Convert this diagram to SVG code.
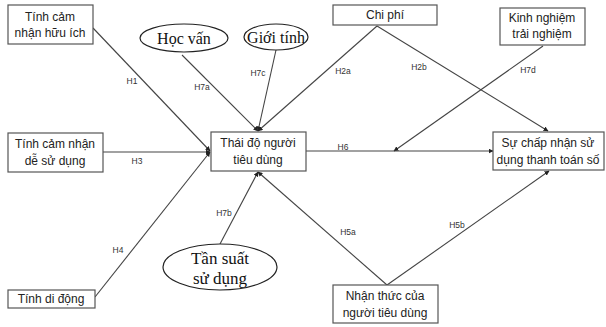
<svg xmlns="http://www.w3.org/2000/svg" width="606" height="327" viewBox="0 0 606 327">
<defs>
<marker id="arr" viewBox="0 0 10 10" refX="9" refY="5" markerWidth="5" markerHeight="5" orient="auto" markerUnits="userSpaceOnUse"><path d="M0,0 L10,5 L0,10 z" fill="#222"/></marker>
</defs>
<style>
.box{fill:#fff;stroke:#555;stroke-width:1.2}
.ell{fill:#fff;stroke:#222;stroke-width:1.2}
.t{font-family:"Liberation Sans",Arial,sans-serif;font-size:12px;fill:#222;text-anchor:middle}
.s{font-family:"Liberation Serif","Times New Roman",serif;fill:#111;text-anchor:middle}
.c{stroke:#444;stroke-width:1.1;fill:none;marker-end:url(#arr)}
.l{font-family:"Liberation Sans",Arial,sans-serif;font-size:8.5px;fill:#333;text-anchor:middle}
</style>
<rect width="606" height="327" fill="#fff"/>
<g id="connectors">
<line class="c" x1="93" y1="28" x2="210" y2="151"/>
<line class="c" x1="103" y1="152" x2="210" y2="152"/>
<line class="c" x1="95" y1="297" x2="210" y2="152"/>
<line class="c" x1="182" y1="55" x2="258" y2="131"/>
<line class="c" x1="276" y1="50" x2="258" y2="131"/>
<line class="c" x1="377" y1="26" x2="258" y2="131"/>
<line class="c" x1="377" y1="26" x2="548" y2="131"/>
<line class="c" x1="543" y1="46" x2="394" y2="151"/>
<line class="c" x1="306" y1="151" x2="493" y2="151"/>
<line class="c" x1="220" y1="244" x2="258" y2="172"/>
<line class="c" x1="387" y1="285" x2="258" y2="172"/>
<line class="c" x1="387" y1="285" x2="549" y2="171"/>
<text class="l" x="132" y="84">H1</text>
<text class="l" x="202" y="90">H7a</text>
<text class="l" x="258" y="76">H7c</text>
<text class="l" x="343" y="74">H2a</text>
<text class="l" x="419" y="70">H2b</text>
<text class="l" x="528" y="73">H7d</text>
<text class="l" x="137" y="164">H3</text>
<text class="l" x="343" y="150">H6</text>
<text class="l" x="118" y="253">H4</text>
<text class="l" x="224" y="216">H7b</text>
<text class="l" x="348" y="235">H5a</text>
<text class="l" x="457" y="228">H5b</text>
</g>
<g id="n-huuich"><rect class="box" x="8" y="5" width="85" height="39"/><text class="t" x="50" y="21">Tính cảm</text><text class="t" x="50" y="37">nhận hữu ích</text></g>
<g id="n-hocvan"><ellipse class="ell" cx="184" cy="38" rx="44" ry="14"/><text class="s" x="184" y="44" font-size="16">Học vấn</text></g>
<g id="n-gioitinh"><ellipse class="ell" cx="276" cy="37" rx="32" ry="13"/><text class="s" x="276" y="43" font-size="16">Giới tính</text></g>
<g id="n-chiphi"><rect class="box" x="333" y="5" width="104" height="20"/><text class="t" x="385" y="19">Chi phí</text></g>
<g id="n-kinhnghiem"><rect class="box" x="500" y="8" width="85" height="37"/><text class="t" x="542" y="22">Kinh nghiệm</text><text class="t" x="542" y="38">trải nghiệm</text></g>
<g id="n-desudung"><rect class="box" x="8" y="133" width="95" height="39"/><text class="t" x="55" y="148">Tính cảm nhận</text><text class="t" x="55" y="165">dễ sử dụng</text></g>
<g id="n-thaido"><rect class="box" x="211" y="132" width="95" height="39"/><text class="t" x="258" y="147">Thái độ người</text><text class="t" x="258" y="164">tiêu dùng</text></g>
<g id="n-chapnhan"><rect class="box" x="493" y="132" width="111" height="38"/><text class="t" x="548" y="147">Sự chấp nhận sử</text><text class="t" x="548" y="164">dụng thanh toán số</text></g>
<g id="n-tansuat"><ellipse class="ell" cx="220" cy="267" rx="57" ry="23"/><text class="s" x="220" y="264" font-size="17">Tần suất</text><text class="s" x="220" y="284" font-size="17">sử dụng</text></g>
<g id="n-didong"><rect class="box" x="8" y="290" width="87" height="18"/><text class="t" x="51" y="303">Tính di động</text></g>
<g id="n-nhanthuc"><rect class="box" x="333" y="285" width="105" height="38"/><text class="t" x="385" y="300">Nhận thức của</text><text class="t" x="385" y="317">người tiêu dùng</text></g>
</svg>
